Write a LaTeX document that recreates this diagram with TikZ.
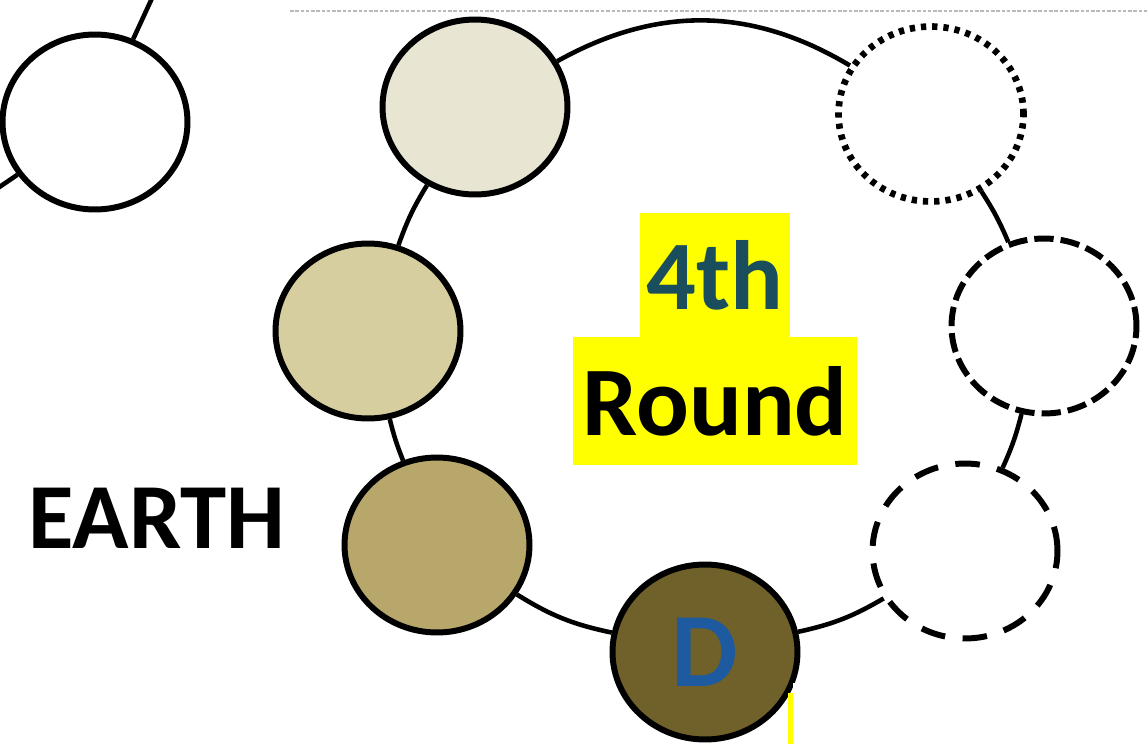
\documentclass[tikz,border=0pt]{standalone}
\usepackage{fontspec}
\setmainfont{Carlito}
\usetikzlibrary{shapes.geometric, positioning}
\definecolor{Sand}{RGB}{233,229,211}
\definecolor{Straw}{RGB}{214,206,158}
\definecolor{Khaki}{RGB}{184,167,106}
\definecolor{Olive}{RGB}{112,97,42}
\definecolor{Teal}{RGB}{27,78,92}
\definecolor{Cobalt}{RGB}{29,90,160}
\definecolor{HiYellow}{RGB}{255,255,0}

\begin{document}
\begin{tikzpicture}[x=0.02cm, y=0.02cm,
        bead/.style={ellipse, draw, line width=3.4pt, minimum width=3.7cm, minimum height=3.5cm, inner sep=0pt},
        link/.style={line width=2.6pt},
        tag/.style={fill=HiYellow, inner sep=0pt, font=\fontsize{56pt}{60pt}\selectfont\bfseries}]
        \useasboundingbox (0,0) rectangle (1147,-744);
        \draw[gray!55, line width=0.6pt, dash pattern=on 2pt off 1pt] (290,-11) -- (1147,-11);

        \node[bead] (b0) at (95,-122) {};
        \node[bead, fill=Sand] (b1) at (475,-107) {};
        \node[bead, fill=Straw] (b2) at (368,-331) {};
        \node[bead, fill=Khaki] (b3) at (437,-545) {};
        \node[bead, fill=Olive, text=Cobalt, font=\fontsize{60pt}{62pt}\selectfont\bfseries] (b4) at (705,-652) {D};
        \node[bead, fill=white, dash pattern=on 14pt off 10pt] (b5) at (965,-551) {};
        \node[bead, fill=white, dash pattern=on 11pt off 4pt] (b6) at (1044,-326) {};
        \node[bead, fill=white, line width=3.8pt, dash pattern=on 3pt off 3.4pt] (b7) at (931,-114) {};

        \foreach \a/\b/\t in {b1/b2/6, b2/b3/4, b3/b4/10, b4/b5/9, b5/b6/5, b6/b7/5, b7/b1/30}
        {
            \draw[link] (\a) to[bend right=\t] (\b);
        }
        \coordinate (up0) at (153,4);
        \coordinate (dn0) at (-5,-190);
        \draw[link] (b0) -- (up0);
        \draw[link] (b0) -- (dn0);

        \node[tag, minimum width=5.68cm, minimum height=2.56cm] (round) at (715,-401) {Round};
        \node[tag, minimum width=3cm, minimum height=2.48cm, text=Teal] (fourth) at (715,-275) {4th};
        \node[font=\fontsize{53pt}{57pt}\selectfont\bfseries] (earth) at (157,-518) {EARTH};

        \fill[white] (793,-683) rectangle (1147,-744);
        \fill[HiYellow] (788,-693) rectangle (793,-744);
\end{tikzpicture}
\end{document}
